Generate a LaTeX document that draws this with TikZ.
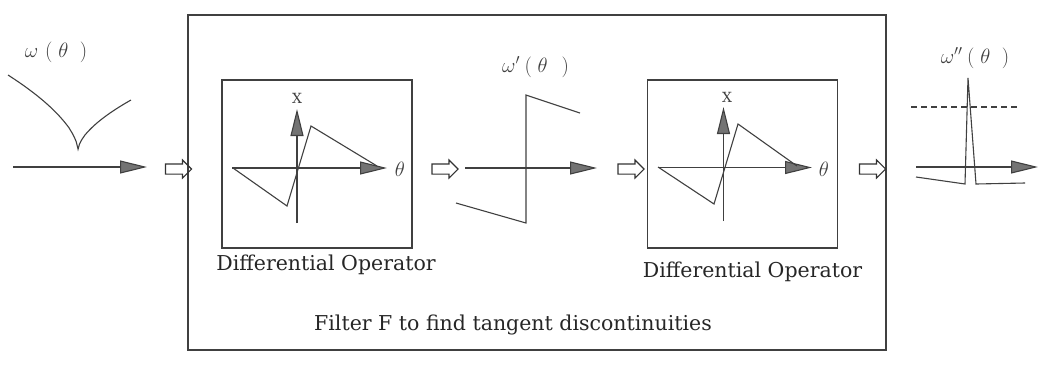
\documentclass[tikz,border=0pt]{standalone}
\usepackage{fontspec}
\setmainfont{DejaVu Serif}
\usetikzlibrary{arrows.meta,positioning,shapes.arrows}

\begin{document}
\begin{tikzpicture}[
    x=1pt, y=-1pt,
    every node/.style={font=\fontsize{20.5}{24}\selectfont},
    frame/.style={draw=black!75, line width=1.1pt},
    opbox/.style={frame, minimum width=190pt, minimum height=168pt, inner sep=0pt},
    txt/.style={inner sep=0pt, text=black!85},
    sym/.style={inner sep=0pt, text=black!75, font=\fontsize{21}{24}\selectfont},
    tag/.style={inner sep=0pt, text=black!75, font=\fontsize{14}{16}\selectfont},
    curve/.style={draw=black!75, line width=1.1pt, line join=miter},
    ax/.style={curve, -{Triangle[length=27pt, width=13pt, fill=black!55]}},
    hollow/.style={single arrow, draw=black!80, line width=1.1pt,
                   minimum height=26pt, inner xsep=0pt, inner ysep=4.5pt,
                   single arrow head extend=4pt}
  ]
  \useasboundingbox (0,0) rectangle (1039,376);
  \node[frame, minimum width=698pt, minimum height=335pt, inner sep=0pt] (filter) at (537,182.5) {};
  \node[opbox] (op1) at (317,164) {};
  \node[opbox] (op2) at (742.5,164) {};
  \node[txt, below=6pt of op1, xshift=9pt] (op1lbl) {Differential Operator};
  \node[txt, below=13pt of op2, xshift=10pt] (op2lbl) {Differential Operator};
  \node[txt, anchor=base] (flbl) at (513,330) {Filter F to find tangent discontinuities};

  \node[hollow] (h1) at (176,169) {};
  \node[hollow] (h2) at (442.5,169) {};
  \node[hollow] (h3) at (628.5,169) {};
  \node[hollow] (h4) at (870,169) {};

  \draw[ax] (13,167) -- (147,167);
  \draw[curve] plot[domain=1:0.001, samples=40] ({78-70*\x},{150-75*\x^0.6})
    -- plot[domain=0.001:1, samples=40] ({78+53*\x},{150-50*\x^0.6});
  \node[sym] (w0) at (56,52) {$\omega\mkern6mu(\mkern5mu\theta\mkern10mu)$};

  \draw[ax] (232,168) -- (387,168);
  \draw[ax] (297,223) -- (297,109);
  \draw[curve] (233,168) -- (287,206) -- (311,126) -- (377,166);
  \node[tag] (x1) at (297,98) {X};
  \node[sym] (t1) at (400,169) {$\theta$};

  \draw[ax] (465,168) -- (597,168);
  \draw[curve] (456,203) -- (526,223) -- (526,95) -- (580,113);
  \node[sym] (w1) at (535.5,67) {$\omega'\mkern4mu(\mkern5mu\theta\mkern12mu)$};

  \draw[ax] (658,167.5) -- (812,167.5);
  \draw[ax] (723.5,221) -- (723.5,107);
  \draw[curve] (658,167) -- (714,204) -- (738,124) -- (797,166);
  \node[tag] (x2) at (727,97) {X};
  \node[sym] (t2) at (824,169) {$\theta$};

  \draw[curve, dash pattern=on 6pt off 4pt] (911,107) -- (1020,107);
  \draw[ax] (916,167) -- (1038,167);
  \draw[curve] (916,177) -- (965,184) -- (968,78) -- (976,184) -- (1025,183);
  \node[sym] (w2) at (975,58) {$\omega''\mkern4mu(\mkern5mu\theta\mkern10mu)$};
\end{tikzpicture}
\end{document}
